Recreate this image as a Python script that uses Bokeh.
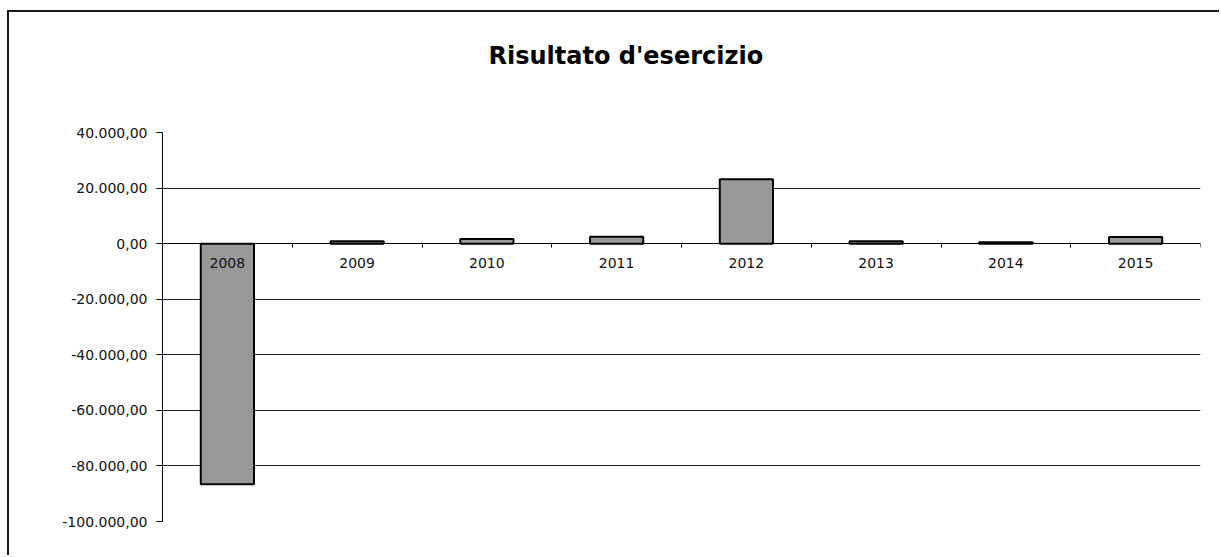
from bokeh.plotting import figure
from bokeh.models import (LinearAxis, FixedTicker, CustomJSTickFormatter, Range1d,
                          ColumnDataSource, Grid, Title)
from bokeh.embed import file_html
from bokeh.resources import INLINE

# ---- data ----
years = ["2008", "2009", "2010", "2011", "2012", "2013", "2014", "2015"]
values = [-86600, 900, 1700, 2500, 23200, 900, 500, 2400]
y_ticks = [40000, 20000, 0, -20000, -40000, -60000, -80000, -100000]
grid_values = [20000, 0, -20000, -40000, -60000, -80000]
title_text = "Risultato d'esercizio"

n = len(years)
x_centers = [i + 0.5 for i in range(n)]
boundaries = list(range(n + 1))

FONT = "DejaVu Sans"
W, H = 1212, 545

p = figure(width=W, height=H, output_backend="svg", toolbar_location=None,
           title=None,
           x_range=Range1d(0, n), y_range=Range1d(y_ticks[-1], y_ticks[0]),
           x_axis_type=None, y_axis_type=None,
           min_border_left=153, min_border_right=21,
           min_border_top=120, min_border_bottom=36)
p.outline_line_color = None
p.background_fill_color = "white"
p.border_fill_color = "white"
p.styles = {"margin-left": "7px", "margin-top": "10px",
            "border-left": "2px solid #1a1a1a", "border-top": "2px solid #1a1a1a"}

# spacer between the frame and the title, then the title itself
spacer = Title(text=" ", text_font_size="1px", standoff=55)
p.add_layout(spacer, "above")
main_title = Title(text=title_text, align="left", offset=326, standoff=10,
                   text_font=FONT, text_font_style="bold", text_font_size="24px",
                   text_color="black")
p.add_layout(main_title, "above")

# horizontal grid lines
grid = Grid(dimension=1, ticker=FixedTicker(ticks=grid_values),
            grid_line_color="#222222", grid_line_width=1)
p.add_layout(grid)

# bars
src = ColumnDataSource(dict(x=x_centers, top=values, year=years))
p.vbar(x="x", top="top", bottom=0, width=0.41, source=src,
       fill_color="#999999", line_color="black", line_width=2)

fmt_code = """
const a = Math.abs(tick).toFixed(2).split('.');
const i = a[0].replace(/\\B(?=(\\d{3})+(?!\\d))/g, '.');
return (tick < 0 ? '-' : '') + i + ',' + a[1];
"""

yaxis = LinearAxis(ticker=FixedTicker(ticks=y_ticks, minor_ticks=[]),
                   formatter=CustomJSTickFormatter(code=fmt_code),
                   major_tick_in=0, major_tick_out=6, minor_tick_in=0, minor_tick_out=0,
                   axis_line_color="black", major_tick_line_color="black",
                   major_label_standoff=9, major_label_text_font=FONT,
                   major_label_text_font_size="14px", major_label_text_color="#111111")
p.add_layout(yaxis, "left")

# x axis line with tick marks at category boundaries (at y = 0)
xaxis_ticks = LinearAxis(ticker=FixedTicker(ticks=boundaries, minor_ticks=[]),
                         fixed_location=0,
                         formatter=CustomJSTickFormatter(code="return '';"),
                         major_tick_in=0, major_tick_out=4, minor_tick_in=0, minor_tick_out=0,
                         axis_line_color="black", major_tick_line_color="black",
                         major_label_text_font_size="1px")
p.add_layout(xaxis_ticks, "below")

# category labels at category centres
xaxis_labels = LinearAxis(ticker=FixedTicker(ticks=x_centers, minor_ticks=[]),
                          fixed_location=0,
                          major_label_overrides={c: y for c, y in zip(x_centers, years)},
                          major_tick_in=0, major_tick_out=0, minor_tick_in=0, minor_tick_out=0,
                          axis_line_color=None, major_tick_line_color=None,
                          major_label_standoff=14, major_label_text_font=FONT,
                          major_label_text_font_size="14px", major_label_text_color="#111111")
p.add_layout(xaxis_labels, "below")

open("out.html", "w").write(file_html(p, INLINE))
